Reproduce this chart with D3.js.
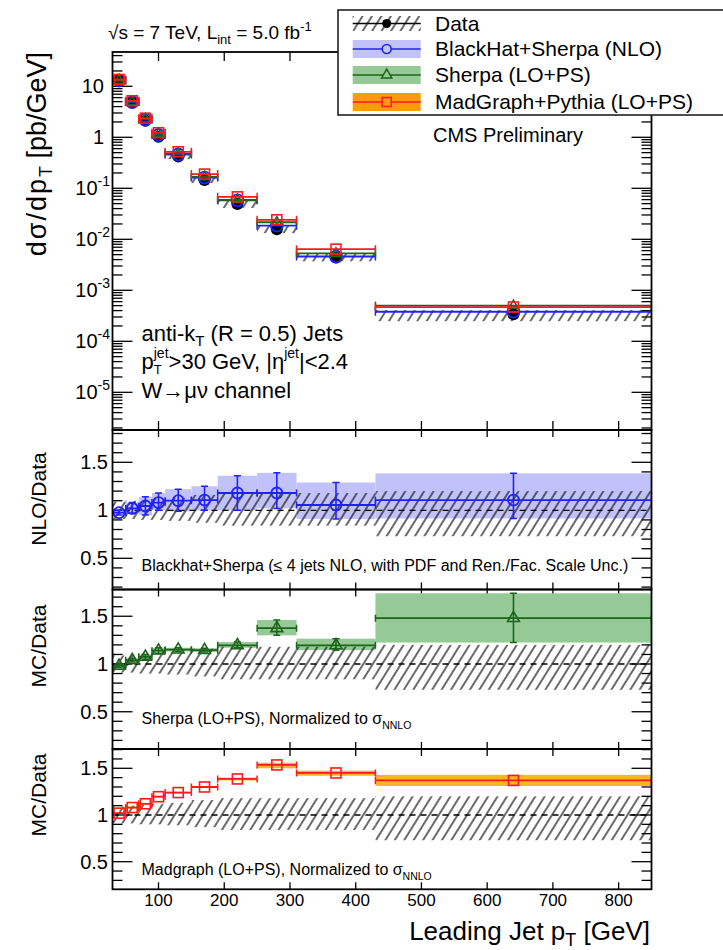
<!DOCTYPE html>
<html><head><meta charset="utf-8">
<script src="https://cdn.jsdelivr.net/npm/d3@7"></script>
<style>
body{margin:0;background:#fff}
svg{display:block}
text{font-family:"Liberation Sans",Arial,Helvetica,sans-serif;fill:#000;white-space:pre}
</style>
</head><body><div id="chart"></div>
<script>
// ---------------- data ----------------
const binLo     = [30, 50, 70, 90, 110, 150, 190, 250, 310, 430];
const binHi     = [50, 70, 90, 110, 150, 190, 250, 310, 430, 850];
const binCenter = [40, 60, 80, 100, 130, 170, 220, 280, 370, 640];

const dataXsec  = [13.3, 4.8, 2.12, 1.03, 0.42, 0.146, 0.049, 0.0157, 0.0044, 0.00034];
const dataErrUp = [0.09, 0.10, 0.11, 0.12, 0.13, 0.16, 0.18, 0.18, 0.18, 0.20];
const dataErrDn = [0.09, 0.09, 0.10, 0.10, 0.11, 0.13, 0.16, 0.16, 0.16, 0.27];

const nloXsec    = [13.0, 4.9, 2.22, 1.11, 0.46, 0.162, 0.058, 0.0185, 0.0046, 0.00038];
const sherpaXsec = [13.0, 5.0, 2.28, 1.17, 0.48, 0.167, 0.059, 0.0216, 0.0053, 0.0005];
const mgXsec     = [13.6, 5.2, 2.37, 1.23, 0.52, 0.19, 0.068, 0.0241, 0.0064, 0.00047];

const nloRatio   = [0.975, 1.02, 1.045, 1.08, 1.10, 1.107, 1.18, 1.18, 1.055, 1.107];
const nloLo      = [0.95, 0.97, 0.95, 1.00, 0.99, 1.00, 1.00, 1.02, 0.91, 0.915];
const nloHi      = [1.00, 1.08, 1.14, 1.18, 1.22, 1.25, 1.36, 1.39, 1.29, 1.385];

const sherpaRatio = [0.98, 1.04, 1.075, 1.14, 1.15, 1.145, 1.196, 1.375, 1.196, 1.48];
const sherpaLo    = [0.96, 1.02, 1.05, 1.11, 1.13, 1.125, 1.17, 1.30, 1.145, 1.225];
const sherpaHi    = [1.00, 1.06, 1.10, 1.17, 1.17, 1.165, 1.23, 1.46, 1.265, 1.74];

const mgRatio = [1.02, 1.08, 1.12, 1.196, 1.24, 1.30, 1.386, 1.536, 1.45, 1.37];
const mgLo    = [1.01, 1.07, 1.11, 1.185, 1.23, 1.29, 1.37, 1.50, 1.42, 1.31];
const mgHi    = [1.03, 1.09, 1.13, 1.205, 1.25, 1.31, 1.40, 1.56, 1.475, 1.43];

const xTickVals = [100, 200, 300, 400, 500, 600, 700, 800];
const ratioLabelVals = [0.5, 1, 1.5];
const mainDecades = [1, 0, -1, -2, -3, -4, -5];

const legendLabels = ["Data", "BlackHat+Sherpa (NLO)", "Sherpa (LO+PS)", "MadGraph+Pythia (LO+PS)"];

// ---------------- styles ----------------
const C = {
  blue: "#2020ff", blueBand: "#c2c2fb",
  green: "#1c641c", greenBand: "#95c995",
  red: "#ff1a1a", orangeBand: "#ffb42a", orangeLeg: "#ff9a10"
};
const W = 723, H = 950;
const L = 112.5, R = 651.5;

const svg = d3.select("#chart").append("svg").attr("width", W).attr("height", H);
const defs = svg.append("defs");
const pat = defs.append("pattern").attr("id", "hatch").attr("patternUnits", "userSpaceOnUse")
  .attr("width", 8).attr("height", 8).attr("patternTransform", "rotate(32)");
pat.append("line").attr("x1", 4).attr("y1", -1).attr("x2", 4).attr("y2", 9)
  .attr("stroke", "#1a1a1a").attr("stroke-width", 1.3);

const x = d3.scaleLinear().domain([30, 850]).range([L, R]);

const panels = {
  main:   {top: 52,    bottom: 430},
  nlo:    {top: 430,   bottom: 589.5},
  sherpa: {top: 589.5, bottom: 749},
  mg:     {top: 749,   bottom: 889.3}
};
const yMain = d3.scaleLog().domain([Math.pow(10, -5.739), Math.pow(10, 1.6725)]).range([panels.main.bottom, panels.main.top]);
const yNLO = d3.scaleLinear().domain([0.175, 1.8365]).range([panels.nlo.bottom, panels.nlo.top]);
const ySh  = d3.scaleLinear().domain([0.110, 1.780]).range([panels.sherpa.bottom, panels.sherpa.top]);
const yMG  = d3.scaleLinear().domain([0.2045, 1.7066]).range([panels.mg.bottom, panels.mg.top]);

// ---------- rich text helper ----------
function placeRich(parent, px, py, parts, base, anchor, rot) {
  const outer = parent.append("g").attr("transform", `translate(${px},${py}) rotate(${rot || 0})`);
  const g = outer.append("g");
  let cx = 0;
  for (const p of parts) {
    const t = g.append("text").attr("x", cx).attr("y", p.dy || 0)
      .attr("xml:space", "preserve")
      .style("font-size", (p.size || base) + "px").text(p.t);
    if (p.ls) t.style("letter-spacing", p.ls + "px");
    const w = t.node().getComputedTextLength();
    if (!p.stack) cx += w;
  }
  const off = anchor === "end" ? -cx : anchor === "middle" ? -cx / 2 : 0;
  g.attr("transform", `translate(${off},0)`);
  return cx;
}

// clip paths
Object.entries(panels).forEach(([k, p]) => {
  defs.append("clipPath").attr("id", "clip-" + k).append("rect")
    .attr("x", L).attr("y", p.top).attr("width", R - L).attr("height", p.bottom - p.top);
});

// ---------- axes/ticks ----------
function xTicks(p, len) {
  const g = svg.append("g").attr("stroke", "#000").attr("stroke-width", 1.3);
  xTickVals.forEach(v => {
    g.append("line").attr("x1", x(v)).attr("x2", x(v)).attr("y1", p.bottom).attr("y2", p.bottom - len);
    g.append("line").attr("x1", x(v)).attr("x2", x(v)).attr("y1", p.top).attr("y2", p.top + len);
  });
}
function yTickLines(vals, y, isMajor) {
  const g = svg.append("g").attr("stroke", "#000").attr("stroke-width", 1.3);
  vals.forEach(v => {
    const len = isMajor(v) ? 20 : 10;
    g.append("line").attr("x1", L).attr("x2", L + len).attr("y1", y(v)).attr("y2", y(v));
    g.append("line").attr("x1", R).attr("x2", R - len).attr("y1", y(v)).attr("y2", y(v));
  });
}

// main log ticks
const logTicks = [];
for (let e = -6; e <= 1; e++) for (let k = 1; k <= 9; k++) {
  const v = k * Math.pow(10, e);
  if (v >= yMain.domain()[0] && v <= yMain.domain()[1]) logTicks.push(v);
}
yTickLines(logTicks, yMain, v => Math.abs(Math.log10(v) - Math.round(Math.log10(v))) < 1e-6);
xTicks(panels.main, 9);

// ratio ticks
function ratioTicks(y) {
  const d = y.domain();
  const vals = d3.range(1, 19).map(i => i / 10).filter(v => v >= d[0] && v <= d[1]);
  yTickLines(vals, y, v => ratioLabelVals.some(m => Math.abs(m - v) < 1e-6));
  ratioLabelVals.forEach(v => {
    svg.append("text").attr("x", 108).attr("y", y(v) + 7).attr("text-anchor", "end")
      .style("font-size", "20px").text(v === 1 ? "1" : String(v));
  });
}
ratioTicks(yNLO); ratioTicks(ySh); ratioTicks(yMG);
xTicks(panels.nlo, 7); xTicks(panels.sherpa, 7); xTicks(panels.mg, 7);

// main tick labels
mainDecades.forEach(e => {
  const yy = yMain(Math.pow(10, e)) + 7;
  if (e === 1) svg.append("text").attr("x", 104).attr("y", yy).attr("text-anchor", "end").style("font-size", "20px").text("10");
  else if (e === 0) svg.append("text").attr("x", 104).attr("y", yy).attr("text-anchor", "end").style("font-size", "20px").text("1");
  else placeRich(svg, 110, yy, [{t: "10"}, {t: String(e), size: 14, dy: -9}], 20, "end");
});

// x tick labels
xTickVals.forEach(v => {
  svg.append("text").attr("x", x(v)).attr("y", 906).attr("text-anchor", "middle")
    .style("font-size", "17px").text(v);
});

// ---------- main panel marks ----------
const gm = svg.append("g").attr("clip-path", "url(#clip-main)");
binCenter.forEach((c, i) => {
  gm.append("rect").attr("x", x(binLo[i])).attr("width", x(binHi[i]) - x(binLo[i]))
    .attr("y", yMain(dataXsec[i] * (1 + dataErrUp[i])))
    .attr("height", yMain(dataXsec[i] * (1 - dataErrDn[i])) - yMain(dataXsec[i] * (1 + dataErrUp[i])))
    .attr("fill", "url(#hatch)");
});
binCenter.forEach((c, i) => {
  gm.append("circle").attr("cx", x(c)).attr("cy", yMain(dataXsec[i])).attr("r", 6).attr("fill", "#000");
});
function hbar(g, i, yy, color, cap, w) {
  g.append("line").attr("x1", x(binLo[i])).attr("x2", x(binHi[i])).attr("y1", yy).attr("y2", yy)
    .attr("stroke", color).attr("stroke-width", w || 1.8);
  [binLo[i], binHi[i]].forEach(b => g.append("line").attr("x1", x(b)).attr("x2", x(b))
    .attr("y1", yy - cap).attr("y2", yy + cap).attr("stroke", color).attr("stroke-width", 1.5));
}
const triSym = d3.symbol().type(d3.symbolTriangle);
function circleM(g, cx, cy, r, color) {
  g.append("circle").attr("cx", cx).attr("cy", cy).attr("r", r).attr("fill", "none")
    .attr("stroke", color).attr("stroke-width", 1.8);
}
function triM(g, cx, cy, size, color) {
  g.append("path").attr("d", triSym.size(size)()).attr("transform", `translate(${cx},${cy})`)
    .attr("fill", "none").attr("stroke", color).attr("stroke-width", 1.6);
}
function sqM(g, cx, cy, s, color) {
  g.append("rect").attr("x", cx - s / 2).attr("y", cy - s / 2).attr("width", s).attr("height", s)
    .attr("fill", "none").attr("stroke", color).attr("stroke-width", 1.6);
}
binCenter.forEach((c, i) => {
  hbar(gm, i, yMain(nloXsec[i]), C.blue, 4);
  circleM(gm, x(c), yMain(nloXsec[i]), 6, C.blue);
});
binCenter.forEach((c, i) => {
  hbar(gm, i, yMain(sherpaXsec[i]), C.green, 4);
  triM(gm, x(c), yMain(sherpaXsec[i]), 40, C.green);
});
binCenter.forEach((c, i) => {
  hbar(gm, i, yMain(mgXsec[i]), C.red, 4);
  sqM(gm, x(c), yMain(mgXsec[i]), 10, C.red);
});

// ---------- ratio panels ----------
function ratioPanel(key, y, vals, lo, hi, bandColor, lineColor, marker, vbars) {
  const g = svg.append("g").attr("clip-path", `url(#clip-${key})`);
  binCenter.forEach((c, i) => {
    g.append("rect").attr("x", x(binLo[i])).attr("width", x(binHi[i]) - x(binLo[i]))
      .attr("y", y(hi[i])).attr("height", y(lo[i]) - y(hi[i])).attr("fill", bandColor);
  });
  binCenter.forEach((c, i) => {
    g.append("rect").attr("x", x(binLo[i])).attr("width", x(binHi[i]) - x(binLo[i]))
      .attr("y", y(1 + dataErrUp[i])).attr("height", y(1 - dataErrDn[i]) - y(1 + dataErrUp[i]))
      .attr("fill", "url(#hatch)");
  });
  g.append("line").attr("x1", x(30)).attr("x2", x(850)).attr("y1", y(1)).attr("y2", y(1))
    .attr("stroke", "#000").attr("stroke-width", 1.3).attr("stroke-dasharray", "6,5");
  binCenter.forEach((c, i) => {
    hbar(g, i, y(vals[i]), lineColor, 3.5);
    if (vbars) {
      g.append("line").attr("x1", x(c)).attr("x2", x(c)).attr("y1", y(lo[i])).attr("y2", y(hi[i]))
        .attr("stroke", lineColor).attr("stroke-width", 1.6);
      [lo[i], hi[i]].forEach(v => g.append("line").attr("x1", x(c) - 3.5).attr("x2", x(c) + 3.5)
        .attr("y1", y(v)).attr("y2", y(v)).attr("stroke", lineColor).attr("stroke-width", 1.5));
    }
    g.append("g").call(gg => marker(gg, x(c), y(vals[i])));
  });
}
ratioPanel("nlo", yNLO, nloRatio, nloLo, nloHi, C.blueBand, C.blue,
  (g, cx, cy) => { g.append("circle").attr("cx", cx).attr("cy", cy).attr("r", 5.5).attr("fill", "none").attr("stroke", C.blue).attr("stroke-width", 1.8); }, true);
ratioPanel("sherpa", ySh, sherpaRatio, sherpaLo, sherpaHi, C.greenBand, C.green,
  (g, cx, cy) => triM(g, cx, cy, 60, C.green), true);
ratioPanel("mg", yMG, mgRatio, mgLo, mgHi, C.orangeBand, C.red,
  (g, cx, cy) => sqM(g, cx, cy, 10, C.red), false);

// frames
Object.values(panels).forEach(p => {
  svg.append("rect").attr("x", L).attr("y", p.top).attr("width", R - L).attr("height", p.bottom - p.top)
    .attr("fill", "none").attr("stroke", "#000").attr("stroke-width", 1.8);
});

// ---------- texts ----------
placeRich(svg, 108, 39, [{t: "√s = 7 TeV, L"}, {t: "int", size: 13, dy: 5}, {t: " = 5.0 fb"}, {t: "-1", size: 13, dy: -8}], 19);
svg.append("text").attr("x", 433).attr("y", 142).style("font-size", "20px").text("CMS Preliminary");

placeRich(svg, 141.5, 341, [{t: "anti-k"}, {t: "T", size: 15, dy: 5}, {t: " (R = 0.5) Jets"}], 22);
placeRich(svg, 141.5, 369, [{t: "p"}, {t: "T", size: 13, dy: 5, stack: true}, {t: "jet", size: 14, dy: -11},
  {t: ">30 GeV, |η"}, {t: "jet", size: 14, dy: -11}, {t: "|<2.4"}], 22);
placeRich(svg, 141.5, 398, [{t: "W→μν channel"}], 22);

placeRich(svg, 141.5, 571, [{t: "Blackhat+Sherpa (≤ 4 jets NLO, with PDF and Ren./Fac. Scale Unc.)"}], 16);
placeRich(svg, 141.5, 724, [{t: "Sherpa (LO+PS), Normalized to σ"}, {t: "NNLO", size: 10.5, dy: 5}], 16);
placeRich(svg, 141.5, 875, [{t: "Madgraph (LO+PS), Normalized to σ"}, {t: "NNLO", size: 10.5, dy: 5}], 16);

// axis titles
placeRich(svg, 46, 52, [{t: "dσ/dp", ls: 2}, {t: "T", size: 18, dy: 6}, {t: " [pb/GeV]"}], 27, "end", -90);
placeRich(svg, 46, 499, [{t: "NLO/Data"}], 21, "middle", -90);
placeRich(svg, 46, 646, [{t: "MC/Data"}], 21, "middle", -90);
placeRich(svg, 46, 795, [{t: "MC/Data"}], 21, "middle", -90);
placeRich(svg, 650, 940, [{t: "Leading Jet p"}, {t: "T", size: 18, dy: 6}, {t: " [GeV]"}], 26, "end");

// ---------- legend ----------
const lg = svg.append("g");
lg.append("rect").attr("x", 338).attr("y", 10).attr("width", 420).attr("height", 105)
  .attr("fill", "#fff").attr("stroke", "#222").attr("stroke-width", 1.6);
const sx0 = 352.7, sx1 = 420.7, scx = (sx0 + sx1) / 2;
const rowY = [23.5, 49, 75, 102];
lg.append("rect").attr("x", sx0).attr("y", rowY[0] - 7.5).attr("width", sx1 - sx0).attr("height", 15).attr("fill", "url(#hatch)");
lg.append("line").attr("x1", sx0).attr("x2", sx1).attr("y1", rowY[0]).attr("y2", rowY[0]).attr("stroke", "#000").attr("stroke-width", 1.5);
lg.append("circle").attr("cx", scx).attr("cy", rowY[0]).attr("r", 4.5).attr("fill", "#000");
const legBands = [C.blueBand, C.greenBand, C.orangeLeg];
const legLines = [C.blue, C.green, C.red];
[1, 2, 3].forEach((r, j) => {
  lg.append("rect").attr("x", sx0).attr("y", rowY[r] - 9).attr("width", sx1 - sx0).attr("height", 18).attr("fill", legBands[j]);
  lg.append("line").attr("x1", sx0).attr("x2", sx1).attr("y1", rowY[r]).attr("y2", rowY[r]).attr("stroke", legLines[j]).attr("stroke-width", 1.6);
});
lg.append("circle").attr("cx", scx).attr("cy", rowY[1]).attr("r", 4.5).attr("fill", C.blueBand).attr("stroke", C.blue).attr("stroke-width", 1.6);
lg.append("path").attr("d", triSym.size(45)()).attr("transform", `translate(${scx},${rowY[2]})`).attr("fill", C.greenBand).attr("stroke", C.green).attr("stroke-width", 1.5);
lg.append("rect").attr("x", scx - 4.5).attr("y", rowY[3] - 4.5).attr("width", 9).attr("height", 9).attr("fill", C.orangeLeg).attr("stroke", C.red).attr("stroke-width", 1.5);
legendLabels.forEach((t, i) => {
  lg.append("text").attr("x", 435).attr("y", rowY[i] + 7).style("font-size", "21px").text(t);
});
</script></body></html>
